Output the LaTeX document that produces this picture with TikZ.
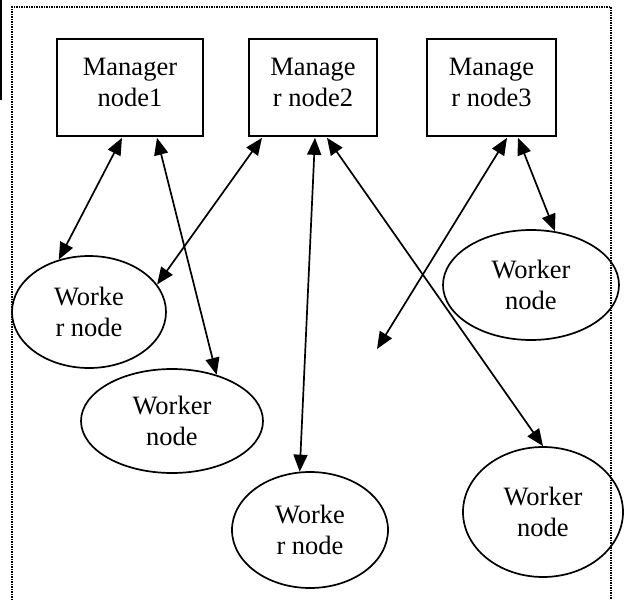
\documentclass[tikz,border=0pt]{standalone}
\usepackage{fontspec}
\setmainfont{Liberation Serif}
\usetikzlibrary{shapes.geometric,arrows.meta}
\tikzset{
  mgr/.style={draw, line width=1.7pt, rectangle, inner sep=0pt, align=center,
    minimum height=97pt, font=\fontsize{26.5}{31}\selectfont},
  wrk/.style={draw, line width=1.7pt, ellipse, inner sep=0pt, align=center,
    font=\fontsize{26.5}{31}\selectfont},
  link/.style={line width=1.7pt, {Triangle[length=17pt,width=14pt]}-{Triangle[length=17pt,width=14pt]}},
  frame/.style={line width=1.3pt, dash pattern=on 1.3pt off 1.2pt}
}
\begin{document}
\begin{tikzpicture}[x=1pt,y=-1pt]
\useasboundingbox (0,0) rectangle (625,600);
% frame
\draw[frame] (12,600) -- (12,7) -- (611,7) -- (611,600);
\draw[line width=1.4pt] (1,0) -- (1,100);
% managers
\node[mgr, minimum width=146pt] (m1) at (130,87.5) {Manager\\node1\\[-21pt]};
\node[mgr, minimum width=128pt] (m2) at (313,87.5) {Manage\\r node2\\[-21pt]};
\node[mgr, minimum width=129pt] (m3) at (491.5,87.5) {Manage\\r node3\\[-21pt]};
% workers
\node[wrk, minimum width=154pt, minimum height=112pt] (w1) at (89,312) {Worke\\r node};
\node[wrk, minimum width=182pt, minimum height=104pt] (w2) at (172,421) {Worker\\node};
\node[wrk, minimum width=156pt, minimum height=116pt] (w3) at (310,530) {Worke\\r node};
\node[wrk, minimum width=160pt, minimum height=130pt] (w4) at (543,512) {Worker\\node};
\node[wrk, minimum width=176pt, minimum height=110pt] (w5) at (531,285) {Worker\\node};
\coordinate (free) at (377,349);
% links
\draw[link] ([xshift=-8pt,yshift=-1pt]m1.south) -- (w1.120);
\draw[link] ([xshift=27pt,yshift=-1pt]m1.south) -- (w2.46);
\draw[link] ([xshift=-51pt,yshift=-1pt]m2.south) -- (w1.22);
\draw[link] ([xshift=2pt,yshift=-1pt]m2.south) -- (w3.100);
\draw[link] ([xshift=14pt,yshift=-1pt]m2.south) -- (w4.north);
\draw[link] ([xshift=15.5pt,yshift=-1pt]m3.south) -- (free);
\draw[link] ([xshift=26.5pt,yshift=-1pt]m3.south) -- (w5.66);
\end{tikzpicture}
\end{document}
